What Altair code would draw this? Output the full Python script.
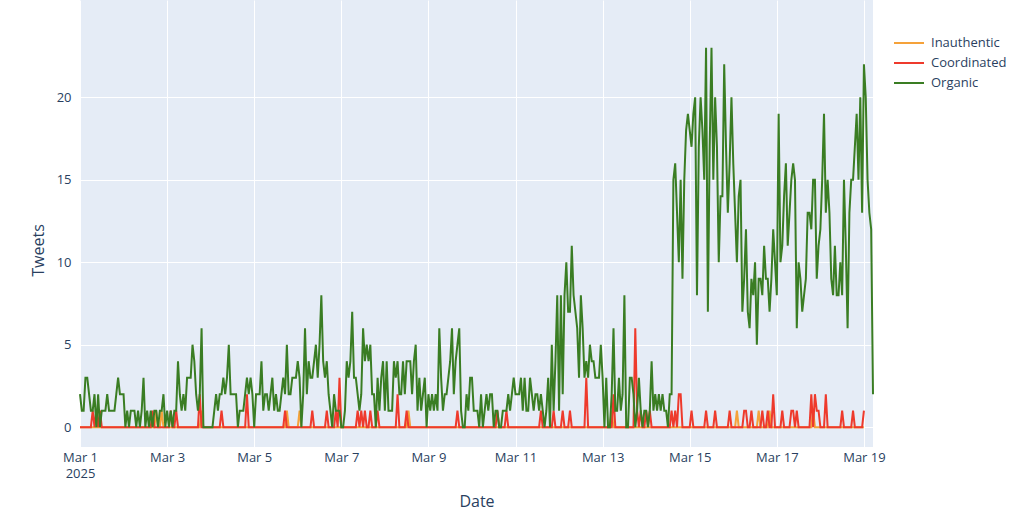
import altair as alt
import pandas as pd

# ---------------- data (hourly tweet counts) -------------
ORGANIC_MAR01 = [2,1,1,3,3,2,1,1,2,0,2,0,1,1,1,2,1,1,1,1,2,3,2,2]
ORGANIC_MAR02 = [2,0,1,0,1,1,1,0,1,0,1,3,0,1,0,1,0,1,1,0,1,1,2,0]
ORGANIC_MAR03 = [1,0,1,0,1,1,4,2,1,2,1,3,3,3,5,4,2,1,2,6,0,0,0,0]
ORGANIC_MAR04 = [0,0,1,2,1,2,2,3,2,3,5,2,2,2,2,0,1,1,1,2,3,2,3,2]
ORGANIC_MAR05 = [0,2,2,2,4,1,2,2,1,2,3,1,2,1,1,2,3,2,5,2,2,3,3,3]
ORGANIC_MAR06 = [4,3,0,2,6,2,4,3,3,4,5,3,5,8,4,3,4,2,1,0,2,1,1,1]
ORGANIC_MAR07 = [0,0,1,4,3,4,7,3,3,2,1,2,6,4,5,4,5,2,2,0,3,1,3,4]
ORGANIC_MAR08 = [1,4,1,1,1,4,3,4,2,2,4,2,4,4,4,2,4,5,1,3,1,2,3,0]
ORGANIC_MAR09 = [2,1,2,1,2,1,6,3,1,2,2,3,4,6,2,4,5,6,1,0,0,2,1,3]
ORGANIC_MAR10 = [3,1,1,1,0,2,0,1,2,1,2,2,0,1,1,0,0,1,1,1,2,1,2,3]
ORGANIC_MAR11 = [2,2,2,3,1,3,1,1,3,2,1,2,2,1,2,1,0,1,3,0,5,1,4,8]
ORGANIC_MAR12 = [1,8,2,8,10,7,7,11,8,7,6,3,8,6,3,4,3,5,4,4,3,3,3,5]
ORGANIC_MAR13 = [3,0,3,0,0,2,6,1,1,3,1,2,8,0,0,3,3,2,0,1,3,1,0,1]
ORGANIC_MAR14 = [1,0,1,4,1,2,1,2,1,2,1,1,0,2,2,15,16,13,10,15,9,15,18,19]
ORGANIC_MAR15 = [18,17,19,20,8,17,20,18,15,23,7,17,23,15,20,17,10,14,14,22,17,13,16,20]
ORGANIC_MAR16 = [16,13,10,14,15,7,9,12,7,6,9,8,10,5,9,9,8,11,9,9,7,9,12,10]
ORGANIC_MAR17 = [8,19,10,11,14,16,11,13,15,16,15,6,10,9,7,8,9,13,13,12,15,15,9,11]
ORGANIC_MAR18 = [12,15,19,13,15,13,9,8,11,8,8,10,8,15,11,6,13,15,15,17,19,15,20,13]
ORGANIC_MAR19 = [22,20,15,13,12,2]

# Coordinated / Inauthentic: hours (since Mar 1 00:00) with non-zero counts
COORD_HOURS = [7,9,11,40,50,53,66,78,92,113,128,136,141,143,153,155,157,160,164,175,
               180,208,230,235,254,261,266,270,279,294,306,307,309,312,314,326,328,
               330,331,337,345,350,358,366,367,370,376,379,382,387,392,393,395,403,
               405,406,407,411,420,426,432]
COORD_COUNTS = [1,1,1,1,1,1,2,1,2,1,1,1,1,3,1,1,1,1,1,2,
                1,1,1,1,1,1,1,1,3,2,6,1,1,1,1,1,1,
                2,2,1,1,1,1,1,1,1,1,1,2,1,1,1,1,2,
                2,1,1,2,1,1,1]
INAUTH_HOURS = [42,45,67,114,121,181,293,362,374,380,404]
INAUTH_COUNTS = [1,1,1,1,1,1,1,1,1,1,1]
MINOR_SERIES_LENGTH = 433  # Coordinated / Inauthentic stop at Mar 19 00:00

SERIES = ["Inauthentic", "Coordinated", "Organic"]
COLORS = ["#F5A23A", "#EE3A2C", "#3A7D23"]
TICK_DAYS = [1, 3, 5, 7, 9, 11, 13, 15, 17, 19]

# ---------------- build the table ----------------
organic = (ORGANIC_MAR01 + ORGANIC_MAR02 + ORGANIC_MAR03 + ORGANIC_MAR04 + ORGANIC_MAR05 +
           ORGANIC_MAR06 + ORGANIC_MAR07 + ORGANIC_MAR08 + ORGANIC_MAR09 + ORGANIC_MAR10 +
           ORGANIC_MAR11 + ORGANIC_MAR12 + ORGANIC_MAR13 + ORGANIC_MAR14 + ORGANIC_MAR15 +
           ORGANIC_MAR16 + ORGANIC_MAR17 + ORGANIC_MAR18 + ORGANIC_MAR19)


def sparse_to_full(hours, counts, n):
    full = [0] * n
    for h, c in zip(hours, counts):
        full[h] = c
    return full


coordinated = sparse_to_full(COORD_HOURS, COORD_COUNTS, MINOR_SERIES_LENGTH)
inauthentic = sparse_to_full(INAUTH_HOURS, INAUTH_COUNTS, MINOR_SERIES_LENGTH)

rows = []
for name, vals in [("Inauthentic", inauthentic), ("Coordinated", coordinated), ("Organic", organic)]:
    times = pd.date_range("2025-03-01 00:00", periods=len(vals), freq="h")
    for t, v in zip(times, vals):
        rows.append({"Date": t.strftime("%Y-%m-%dT%H:%M:%S"), "Tweets": v, "Series": name})
df = pd.DataFrame(rows)

FONT = "Open Sans"
TXT = "#2a3f5f"

x_enc = alt.X(
    "Date:T",
    scale=alt.Scale(domain=[alt.DateTime(year=2025, month=3, date=1, hours=0),
                            alt.DateTime(year=2025, month=3, date=19, hours=5)], nice=False),
    axis=alt.Axis(
        values=[alt.DateTime(year=2025, month=3, date=d) for d in TICK_DAYS],
        labelExpr="date(datum.value) == 1 && month(datum.value) == 2 ? "
                  "[timeFormat(datum.value, '%b %-d'), '2025'] : timeFormat(datum.value, '%b %-d')",
        labelAlign="center", labelBaseline="top", labelPadding=4, labelLineHeight=16,
        labelFontSize=13, labelColor=TXT, labelFont=FONT,
        grid=True, gridColor="white", gridWidth=1, domain=False, ticks=False,
        title="Date", titleFont=FONT, titleFontSize=16, titleFontWeight="normal",
        titleColor=TXT, titleY=54, titleBaseline="middle",
        labelOverlap=False,
    ),
)
y_enc = alt.Y(
    "Tweets:Q",
    scale=alt.Scale(domain=[-1.2, 25.9], nice=False, zero=False),
    axis=alt.Axis(
        values=[0, 5, 10, 15, 20], labelFontSize=13, labelColor=TXT, labelFont=FONT,
        labelPadding=9, grid=True, gridColor="white", gridWidth=1, domain=False, ticks=False,
        title="Tweets", titleFont=FONT, titleFontSize=16, titleFontWeight="normal",
        titleColor=TXT, titleX=-42, titleY=250, titleAngle=-90, titleBaseline="middle",
    ),
)
color_enc = alt.Color(
    "Series:N",
    scale=alt.Scale(domain=SERIES, range=COLORS),
    legend=alt.Legend(
        orient="none", legendX=813, legendY=36, title=None, symbolType="stroke",
        symbolStrokeWidth=2, symbolSize=900, labelFontSize=13, labelFont=FONT,
        labelColor=TXT, labelOffset=6, rowPadding=6, padding=0, clipHeight=14,
    ),
)

layers = []
for s in SERIES:
    layers.append(
        alt.Chart(df)
        .transform_filter(alt.datum.Series == s)
        .mark_line(strokeWidth=2, interpolate="linear")
        .encode(x=x_enc, y=y_enc, color=color_enc)
    )

chart = (
    alt.layer(*layers)
    .properties(
        width=793, height=447,
        autosize=alt.AutoSizeParams(type="none"),
        padding={"left": 80, "top": 0, "right": 151, "bottom": 78},
        background="white",
    )
    .configure_view(fill="#E5ECF6", stroke=None)
)

chart.save("out.html", embed_options={"renderer": "svg", "actions": False})
